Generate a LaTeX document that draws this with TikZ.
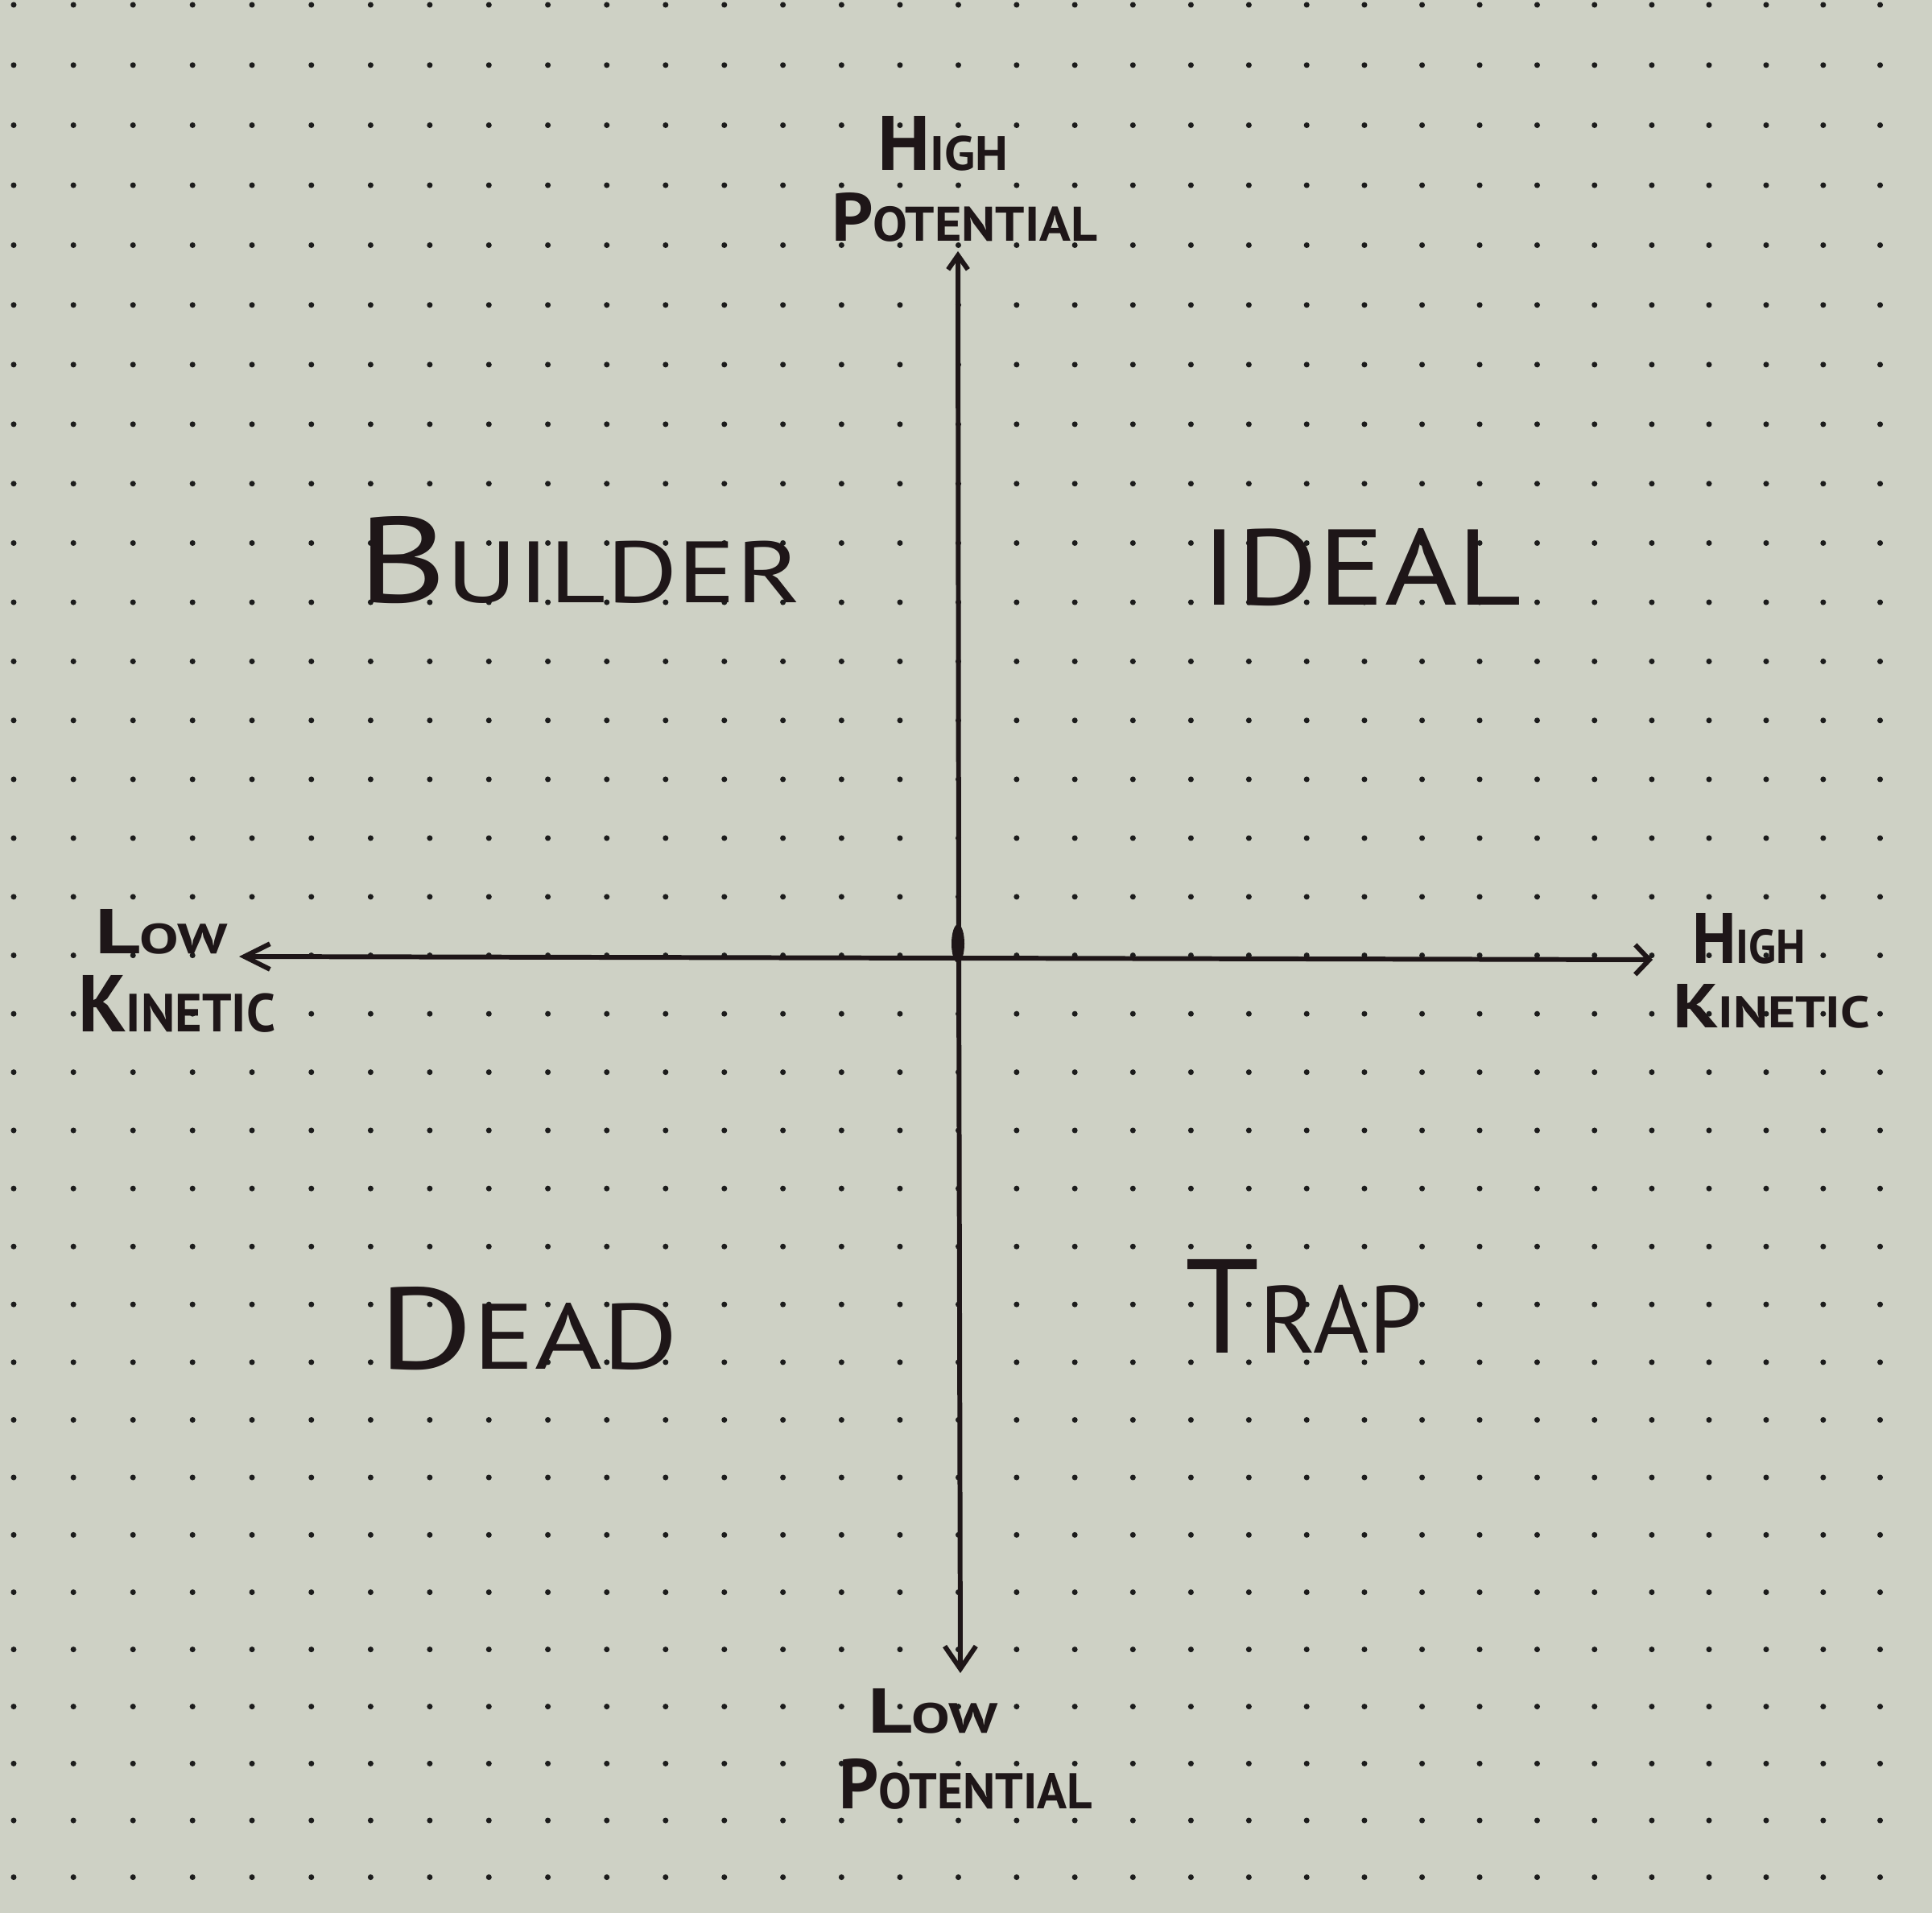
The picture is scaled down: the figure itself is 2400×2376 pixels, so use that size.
\documentclass[tikz,border=0pt]{standalone}
\usepackage{fontspec}
\usepackage{graphicx}
\setmainfont{PT Sans}
\usetikzlibrary{arrows.meta}
\definecolor{paper}{RGB}{206,209,197}
\definecolor{ink}{RGB}{30,22,24}
\definecolor{dotc}{RGB}{28,28,28}
\newcommand\cpx[3]{{\fontsize{#3}{#3}\selectfont #1}{\fontsize{10pt}{10pt}\selectfont #2}}
\tikzset{
  lbl/.style={inner sep=0pt, outer sep=0pt, text=ink, anchor=south west},
  axisline/.style={draw=ink, line width=1.7pt, line cap=round, line join=round},
}
\begin{document}
\begin{tikzpicture}[x=0.01cm,y=-0.01cm]
\fill[paper] (0,0) rectangle (2400,2376);
\useasboundingbox (0,0) rectangle (2400,2376);
% dot grid
\foreach \i in {0,...,32}{
  \foreach \j in {0,...,32}{
    \fill[dotc] ({17+74.23*\i-0.0555*\i*\i},{6+74.9*\j-0.0696*\j*\j}) circle[radius=1pt];
  }
}
% axes
\coordinate (top) at (1190,312);
\coordinate (bottom) at (1193,2078);
\coordinate (left) at (297,1188);
\coordinate (right) at (2053,1192);
\coordinate (center) at (1191,1190);
\draw[axisline, {Straight Barb[length=8pt,width=11pt]}-{Straight Barb[length=5pt,width=7pt]}] (bottom) -- (center) -- (top);
\draw[axisline, {Straight Barb[length=9pt,width=9pt]}-{Straight Barb[length=5pt,width=10.5pt]}] (left) -- (center) -- (right);
\fill[ink] (1190,1172) ellipse[x radius=8, y radius=24];
% axis labels
\node[lbl] (hp1) at (1090,212) {\resizebox{1.62cm}{0.67cm}{\bfseries\cpx{H}{IGH}{16pt}}};
\node[lbl] (hp2) at (1033,300) {\resizebox{3.30cm}{0.60cm}{\bfseries\cpx{P}{OTENTIAL}{14pt}}};
\node[lbl] (lp1) at (1078,2153) {\resizebox{1.62cm}{0.55cm}{\bfseries\cpx{L}{OW}{15pt}}};
\node[lbl] (lp2) at (1042,2247) {\resizebox{3.15cm}{0.62cm}{\bfseries\cpx{P}{OTENTIAL}{14pt}}};
\node[lbl] (lk1) at (118,1185) {\resizebox{1.65cm}{0.55cm}{\bfseries\cpx{L}{OW}{15pt}}};
\node[lbl] (lk2) at (97,1282) {\resizebox{2.45cm}{0.70cm}{\bfseries\cpx{K}{INETIC}{15pt}}};
\node[lbl] (hk1) at (2102,1197) {\resizebox{1.41cm}{0.62cm}{\bfseries\cpx{H}{IGH}{15pt}}};
\node[lbl] (hk2) at (2078,1277) {\resizebox{2.45cm}{0.54cm}{\bfseries\cpx{K}{INETIC}{14pt}}};
% quadrant labels
\node[lbl] (builder) at (444,750) {\resizebox{5.51cm}{1.07cm}{\cpx{B}{UILDER}{14pt}}};
\node[lbl] (ideal) at (1492,753) {\resizebox{3.98cm}{0.95cm}{\cpx{I}{DEAL}{10pt}}};
\node[lbl] (dead) at (470,1702) {\resizebox{3.72cm}{1.02cm}{\cpx{D}{EAD}{12.5pt}}};
\node[lbl] (trap) at (1472,1680) {\resizebox{2.95cm}{1.16cm}{\cpx{T}{RAP}{14pt}}};
\end{tikzpicture}
\end{document}
